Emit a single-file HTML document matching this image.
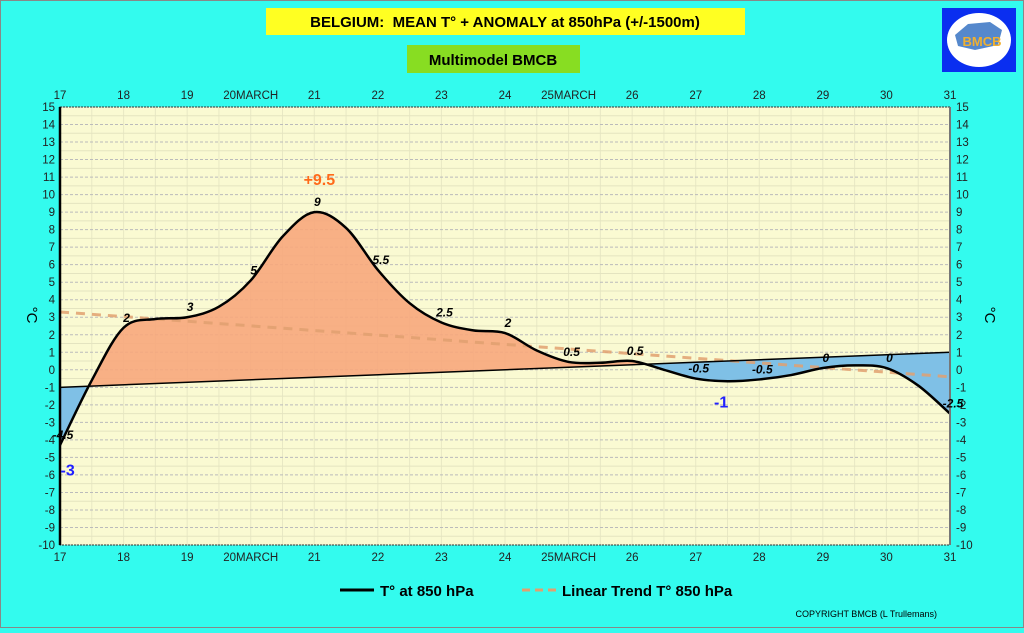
<!DOCTYPE html>
<html><head><meta charset="utf-8"><style>
body{margin:0;width:1024px;height:628px;overflow:hidden;background:#33fbee;font-family:"Liberation Sans",sans-serif}
</style></head><body>
<svg id="c" width="1024" height="628" xmlns="http://www.w3.org/2000/svg">
<rect x="0.5" y="0.5" width="1023" height="627" fill="#33fbee" stroke="#888"/>
<rect x="266" y="8" width="479" height="27" fill="#ffff22"/>
<text x="505" y="27" text-anchor="middle" font-size="15" font-weight="bold" xml:space="preserve">BELGIUM:  MEAN T° + ANOMALY at 850hPa (+/-1500m)</text>
<rect x="407" y="45" width="173" height="28" fill="#88dd22"/>
<text x="493" y="65" text-anchor="middle" font-size="15" font-weight="bold">Multimodel BMCB</text>
<g>
<rect x="942" y="8" width="74" height="64" fill="#0a2ef0"/>
<ellipse cx="979" cy="40" rx="32" ry="27" fill="#fff"/>
<path d="M955 35 L968 24 L990 22 L1002 30 L998 45 L975 50 L958 46Z" fill="#5588cc"/>
<text x="982" y="46" text-anchor="middle" font-size="13" font-weight="bold" fill="#f0b030">BMCB</text>
</g>
<rect x="60" y="107" width="890" height="438" fill="#fafad2"/>
<g id="grid"></g><g id="fills"></g><g id="lines"></g><g id="axes"></g><g id="labels"></g>
<text transform="translate(27,315) rotate(90)" text-anchor="middle" font-size="15">°C</text>
<text transform="translate(985,315) rotate(90)" text-anchor="middle" font-size="15">°C</text>
<g>
<line x1="340" y1="590" x2="374" y2="590" stroke="#000" stroke-width="3"/>
<text x="380" y="596" font-size="15" font-weight="bold">T° at 850 hPa</text>
<line x1="522" y1="590" x2="556" y2="590" stroke="#e0a070" stroke-width="3" stroke-dasharray="8,5"/>
<text x="562" y="596" font-size="15" font-weight="bold">Linear Trend T° 850 hPa</text>
</g>
<text x="937" y="617" text-anchor="end" font-size="9">COPYRIGHT BMCB (L Trullemans)</text>
</svg>
<script>
const days=[17,17.5,18,18.5,19,19.5,20,20.5,21,21.5,22,22.5,23,23.5,24,24.5,25,25.5,26,26.5,27,27.5,28,28.5,29,29.5,30,30.5,31];
const temps=[-4.3,-0.6,2.4,2.9,3.0,3.6,5.1,7.6,9.0,8.1,5.7,3.8,2.7,2.25,2.1,1.1,0.45,0.4,0.5,0.0,-0.5,-0.65,-0.55,-0.3,0.1,0.25,0.1,-0.9,-2.5];
const normalStart=-1, normalEnd=1;
const trendStart=3.3, trendEnd=-0.4;
const pointLabelDays=[17,18,19,20,21,22,23,24,25,26,27,28,29,30,31];
const pointLabels=["-4.5","2","3","5","9","5.5","2.5","2","0.5","0.5","-0.5","-0.5","0","0","-2.5"];
const xTicks=["17","18","19","20MARCH","21","22","23","24","25MARCH","26","27","28","29","30","31"];
const yTicks=[-10,-9,-8,-7,-6,-5,-4,-3,-2,-1,0,1,2,3,4,5,6,7,8,9,10,11,12,13,14,15];
const annotations=[{d:21.08,v:10.9,t:"+9.5",c:"#ff6a1a"},{d:17.12,v:-5.7,t:"-3",c:"#2020ff"},{d:27.4,v:-1.8,t:"-1",c:"#2020ff"}];
const X0=60,X1=950,Y0=545,Y1=107;
const xs=d=>X0+(d-17)/14*(X1-X0);
const ys=v=>Y0-(v+10)/25*(Y0-Y1);
const NS="http://www.w3.org/2000/svg";
function mk(tag,attrs,parent){const e=document.createElementNS(NS,tag);for(const k in attrs)e.setAttribute(k,attrs[k]);document.getElementById(parent).appendChild(e);return e;}
for(let i=0;i<=28;i++){const x=X0+i*(X1-X0)/28;const l=mk('line',{x1:x,x2:x,y1:Y1,y2:Y0,stroke:'#e8e8c4','stroke-width':1},'grid');

}
for(let v=-10;v<=15;v+=0.5){const y=ys(v);const l=mk('line',{x1:X0,x2:X1,y1:y,y2:y,stroke:Number.isInteger(v)?'#bbb':'#e4e4c0','stroke-dasharray':Number.isInteger(v)?'3,2':'none'},'grid');

}
const pts=days.map((d,i)=>[xs(d),ys(temps[i])]);
let dpath='M'+pts[0][0]+','+pts[0][1];
for(let i=0;i<pts.length-1;i++){const p0=pts[Math.max(0,i-1)],p1=pts[i],p2=pts[i+1],p3=pts[Math.min(pts.length-1,i+2)];
dpath+=` C${p1[0]+(p2[0]-p0[0])/6},${p1[1]+(p2[1]-p0[1])/6} ${p2[0]-(p3[0]-p1[0])/6},${p2[1]-(p3[1]-p1[1])/6} ${p2[0]},${p2[1]}`;}
const nx0=xs(17),ny0=ys(normalStart),nx1=xs(31),ny1=ys(normalEnd);
const defs=mk('defs',{},'fills');
const ca=document.createElementNS(NS,'clipPath');ca.setAttribute('id','above');defs.appendChild(ca);
const pa=document.createElementNS(NS,'path');pa.setAttribute('d',`M${nx0},${ny0} L${nx1},${ny1} L${nx1},${Y1} L${nx0},${Y1}Z`);ca.appendChild(pa);
const cb=document.createElementNS(NS,'clipPath');cb.setAttribute('id','below');defs.appendChild(cb);
const pb=document.createElementNS(NS,'path');pb.setAttribute('d',`M${nx0},${ny0} L${nx1},${ny1} L${nx1},${Y0} L${nx0},${Y0}Z`);cb.appendChild(pb);
const area=dpath+` L${nx1},${ny1} L${nx0},${ny0}Z`;
const fa=mk('path',{d:area,fill:'#f7a77c','fill-opacity':0.9,'clip-path':'url(#above)'},'fills');


const fb=mk('path',{d:area,fill:'#7fc0e6','clip-path':'url(#below)'},'fills');


const tr=mk('line',{x1:xs(17),y1:ys(trendStart),x2:xs(31),y2:ys(trendEnd),stroke:'#e0a070','stroke-width':3,'stroke-dasharray':'9,7','stroke-opacity':0.85},'lines');


const nl=mk('line',{x1:nx0,y1:ny0,x2:nx1,y2:ny1,stroke:'#000','stroke-width':1.5},'lines');


const tl=mk('path',{d:dpath,fill:'none',stroke:'#000','stroke-width':2.5},'lines');


const fr=mk('rect',{x:X0,y:Y1,width:X1-X0,height:Y0-Y1,fill:'none',stroke:'#333','stroke-width':1,'stroke-dasharray':'2,1'},'axes');


const la=mk('line',{x1:X0,x2:X0,y1:Y1,y2:Y0,stroke:'#000','stroke-width':2.5},'axes');


const ra=mk('line',{x1:X1,x2:X1,y1:Y1,y2:Y0,stroke:'#777','stroke-width':2},'axes');


yTicks.forEach(v=>{const y=ys(v)+4;
const a=mk('text',{x:55,y:y,'text-anchor':'end','font-size':11.5,fill:'#222'},'axes');a.textContent=v;


const b=mk('text',{x:956,y:y,'font-size':11.5,fill:'#222'},'axes');b.textContent=v;

});
xTicks.forEach((t,i)=>{const x=xs(17+i);
const a=mk('text',{x:x,y:99,'text-anchor':'middle','font-size':11.5,fill:'#222'},'axes');a.textContent=t;


const b=mk('text',{x:x,y:561,'text-anchor':'middle','font-size':11.5,fill:'#222'},'axes');b.textContent=t;

});
pointLabelDays.forEach((d,i)=>{const k=days.indexOf(d);const v=temps[k];
const t=mk('text',{x:xs(d)+3,y:ys(v)-6,'text-anchor':'middle','font-size':12,'font-weight':'bold','font-style':'italic'},'labels');t.textContent=pointLabels[i];

});
annotations.forEach(a=>{const t=mk('text',{x:xs(a.d),y:ys(a.v)+6,'text-anchor':'middle','font-size':16,'font-weight':'bold',fill:a.c},'labels');t.textContent=a.t;

});
</script>
</body></html>
